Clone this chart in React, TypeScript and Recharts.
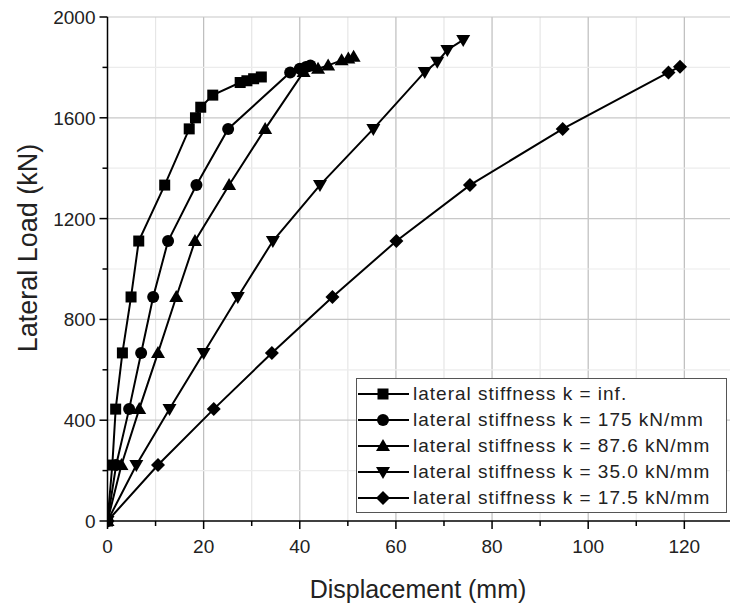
import { Line, LineChart, ReferenceLine, XAxis, YAxis } from "recharts";

// displacement (mm) / lateral load (kN), one pair of arrays per stiffness
const infDisp = [0, 1.0, 1.7, 3.1, 4.9, 6.5, 11.9, 17.0, 18.3, 19.4, 21.9, 27.6, 29.0, 30.4, 32.0];
const infLoad = [0, 222, 444, 667, 889, 1111, 1333, 1556, 1600, 1642, 1690, 1740, 1747, 1755, 1762];

const k175Disp = [0, 1.8, 4.5, 7.0, 9.5, 12.6, 18.5, 25.1, 38.0, 40.0, 41.3, 42.2];
const k175Load = [0, 222, 444, 667, 889, 1111, 1333, 1556, 1780, 1795, 1802, 1808];

const k876Disp = [0, 2.9, 6.6, 10.5, 14.3, 18.2, 25.3, 32.8, 40.8, 43.8, 45.9, 48.7, 50.1, 51.2];
const k876Load = [0, 222, 444, 667, 889, 1111, 1333, 1556, 1782, 1795, 1808, 1828, 1835, 1842];

const k350Disp = [0, 6.0, 12.9, 20.0, 27.1, 34.4, 44.2, 55.3, 66.0, 68.6, 70.7, 74.0];
const k350Load = [0, 222, 444, 667, 889, 1111, 1333, 1556, 1782, 1822, 1869, 1909];

const k175bDisp = [0, 10.5, 22.1, 34.2, 46.8, 60.1, 75.4, 94.7, 116.7, 119.1];
const k175bLoad = [0, 222, 444, 667, 889, 1111, 1333, 1556, 1780, 1803];

const seriesNames = [
  "lateral stiffness k = inf.",
  "lateral stiffness k = 175 kN/mm",
  "lateral stiffness k = 87.6 kN/mm",
  "lateral stiffness k = 35.0 kN/mm",
  "lateral stiffness k = 17.5 kN/mm",
];
const seriesShapes = ["square", "circle", "triangle", "down", "diamond"];

const xTicks = [0, 10, 20, 30, 40, 50, 60, 70, 80, 90, 100, 110, 120];
const yTicks = [0, 200, 400, 600, 800, 1000, 1200, 1400, 1600, 1800, 2000];

const toPoints = (xs: number[], ys: number[]) => xs.map((x, i) => ({ x, y: ys[i] }));
const series = [
  toPoints(infDisp, infLoad),
  toPoints(k175Disp, k175Load),
  toPoints(k876Disp, k876Load),
  toPoints(k350Disp, k350Load),
  toPoints(k175bDisp, k175bLoad),
];

const FONT = "'Liberation Sans', Arial, sans-serif";

function Marker({ shape, cx, cy }: { shape: string; cx: number; cy: number }) {
  if (shape === "square") return <rect x={cx - 5.5} y={cy - 5.5} width={11} height={11} fill="#000" />;
  if (shape === "circle") return <circle cx={cx} cy={cy} r={6} fill="#000" />;
  if (shape === "triangle")
    return <polygon points={`${cx},${cy - 7} ${cx - 7},${cy + 5} ${cx + 7},${cy + 5}`} fill="#000" />;
  if (shape === "down")
    return <polygon points={`${cx},${cy + 7} ${cx - 7},${cy - 5} ${cx + 7},${cy - 5}`} fill="#000" />;
  return <polygon points={`${cx},${cy - 7} ${cx + 7},${cy} ${cx},${cy + 7} ${cx - 7},${cy}`} fill="#000" />;
}

const dotFor = (shape: string) => (p: any) => (
  <Marker key={`${shape}-${p.index}`} shape={shape} cx={p.cx} cy={p.cy} />
);

const XTick = ({ x, y, payload }: any) => {
  const major = payload.value % 20 === 0;
  return (
    <g>
      <line x1={x} y1={y} x2={x} y2={y + (major ? 8 : 5)} stroke="#000" strokeWidth={1.5} />
      {major && (
        <text x={x} y={y + 32} textAnchor="middle" fontSize={19} fontFamily={FONT} fill="#222">
          {payload.value}
        </text>
      )}
    </g>
  );
};

const YTick = ({ x, y, payload }: any) => {
  const major = payload.value % 400 === 0;
  return (
    <g>
      <line x1={x} y1={y} x2={x - (major ? 8 : 5)} y2={y} stroke="#000" strokeWidth={1.5} />
      {major && (
        <text x={x - 12} y={y + 7} textAnchor="end" fontSize={19} fontFamily={FONT} fill="#222">
          {payload.value}
        </text>
      )}
    </g>
  );
};

export default function App() {
  return (
    <div style={{ position: "absolute", left: 0, top: 0, width: 730, height: 605, background: "#fff" }}>
      <LineChart width={730} height={605} margin={{ top: 17, right: 0, bottom: 0, left: 0 }}>
        {xTicks.slice(1).map((v) => (
          <ReferenceLine key={`gx-${v}`} x={v} stroke={v % 20 === 0 ? "#bdbdbd" : "#e6e6e6"} strokeWidth={1.2} />
        ))}
        {yTicks.slice(1).map((v) => (
          <ReferenceLine key={`gy-${v}`} y={v} stroke={v % 400 === 0 ? "#c8c8c8" : "#ececec"} strokeWidth={1.2} />
        ))}
        <XAxis
          type="number"
          dataKey="x"
          domain={[0, 129.5]}
          ticks={xTicks}
          allowDataOverflow
          height={84}
          tickSize={0}
          tickMargin={0}
          tickLine={false}
          axisLine={{ stroke: "#000", strokeWidth: 1.5 }}
          tick={<XTick />}
          label={{
            content: () => (
              <text x={418} y={598} textAnchor="middle" fontSize={25} fontFamily={FONT} fill="#222">
                Displacement (mm)
              </text>
            ),
          }}
        />
        <YAxis
          type="number"
          dataKey="y"
          domain={[0, 2000]}
          ticks={yTicks}
          width={107.5}
          tickSize={0}
          tickMargin={0}
          tickLine={false}
          axisLine={{ stroke: "#000", strokeWidth: 1.5 }}
          tick={<YTick />}
          label={{
            content: () => (
              <text
                transform="translate(28,248) rotate(-90)"
                textAnchor="middle"
                dominantBaseline="central"
                fontSize={27}
                fontFamily={FONT}
                fill="#222"
              >
                Lateral Load (kN)
              </text>
            ),
          }}
        />
        {series.map((d, i) => (
          <Line
            key={seriesNames[i]}
            data={d}
            dataKey="y"
            type="linear"
            stroke="#000"
            strokeWidth={2}
            dot={dotFor(seriesShapes[i])}
            activeDot={false}
            isAnimationActive={false}
          />
        ))}
      </LineChart>
      <div
        style={{
          position: "absolute",
          left: 356,
          top: 378,
          width: 371,
          height: 135,
          border: "1px solid #555",
          background: "#fff",
          boxSizing: "border-box",
          paddingTop: 2,
        }}
      >
        {seriesNames.map((n, i) => (
          <div key={n} style={{ display: "flex", alignItems: "center", height: 26 }}>
            <svg width={56} height={26} style={{ flex: "none" }}>
              <line x1={1} y1={13} x2={52} y2={13} stroke="#000" strokeWidth={2} />
              <Marker shape={seriesShapes[i]} cx={26} cy={13} />
            </svg>
            <span
              style={{
                fontFamily: FONT,
                fontSize: 19,
                color: "#222",
                letterSpacing: 1.0,
                whiteSpace: "nowrap",
              }}
            >
              {n}
            </span>
          </div>
        ))}
      </div>
    </div>
  );
}
